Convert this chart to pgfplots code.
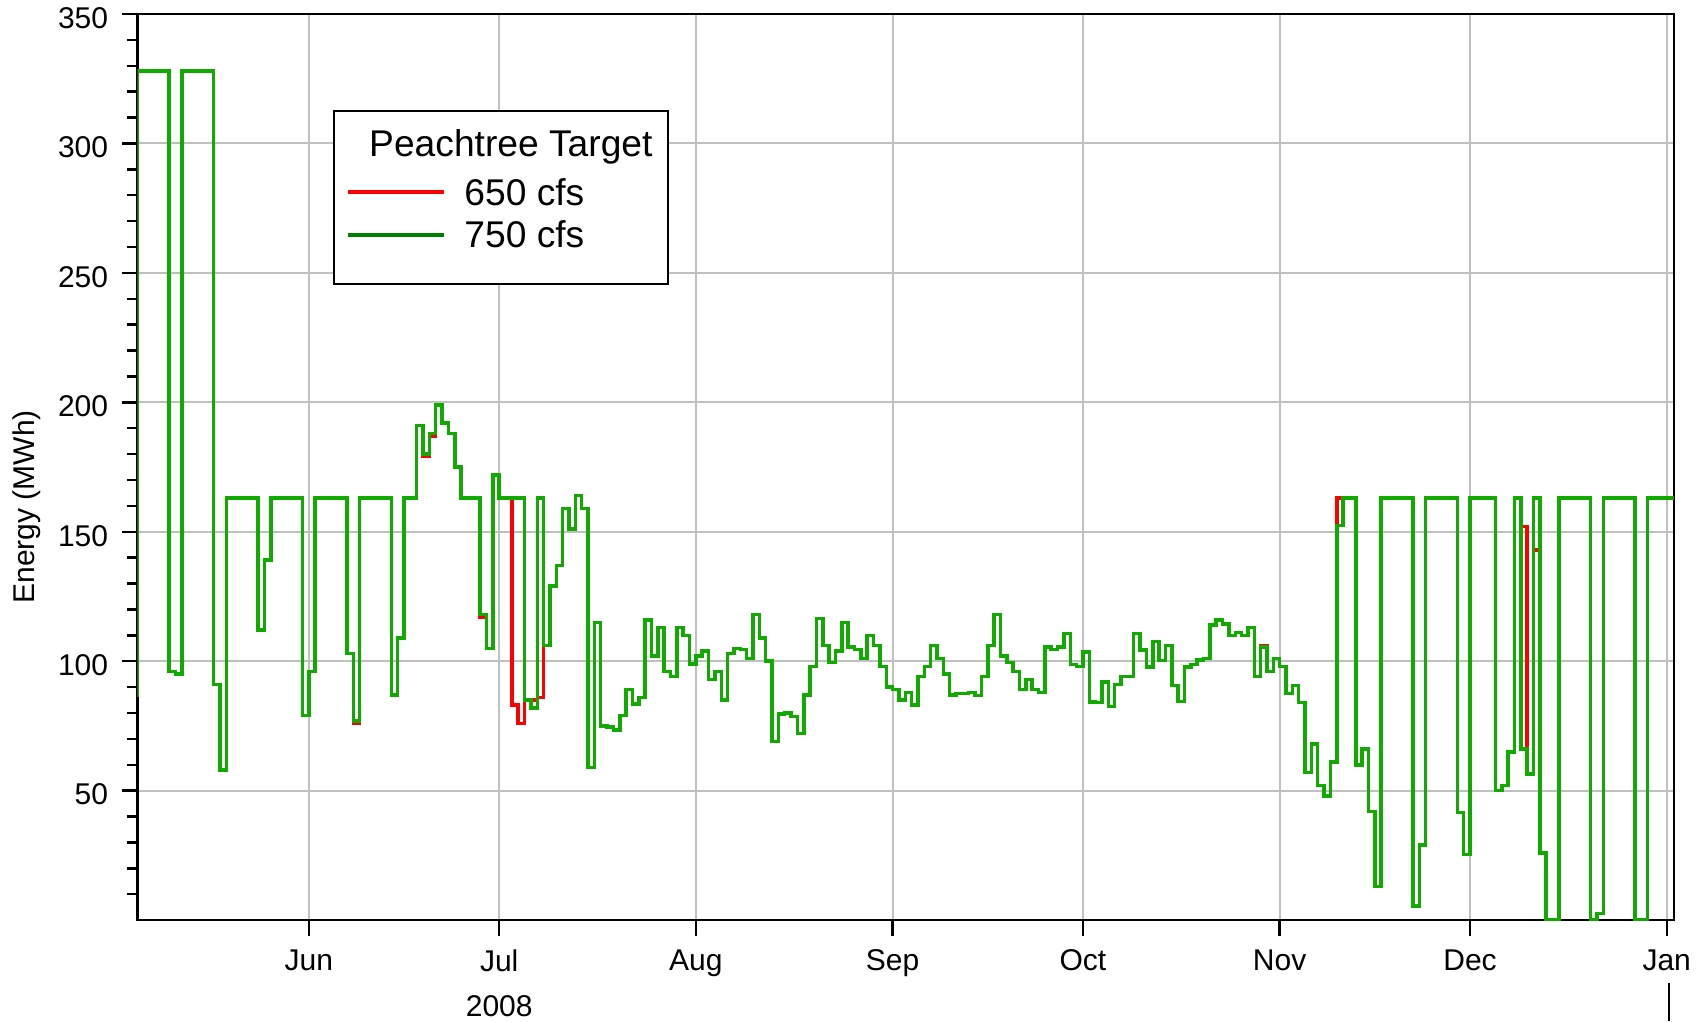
\documentclass[border=0pt]{standalone}
\usepackage{pgfplots}
\pgfplotsset{compat=1.18}
\usepackage{pgfplotstable}
\usepackage{fontspec}
\setmainfont{Liberation Sans}
\definecolor{plotgreen}{RGB}{17,170,0}
\definecolor{leggreen}{RGB}{0,128,0}
\definecolor{plotred}{RGB}{255,0,0}
\definecolor{gridgray}{RGB}{192,192,192}

% day = days since 1 June 2008
\pgfplotstableread{
day red green
-28 87 87
-27 328 328
-26 328 328
-25 328 328
-24 328 328
-23 328 328
-22 96 96
-21 95 95
-20 328 328
-19 328 328
-18 328 328
-17 328 328
-16 328 328
-15 91 91
-14 58 58
-13 163 163
-12 163 163
-11 163 163
-10 163 163
-9 163 163
-8 112 112
-7 139 139
-6 163 163
-5 163 163
-4 163 163
-3 163 163
-2 163 163
-1 79 79
0 96 96
1 163 163
2 163 163
3 163 163
4 163 163
5 163 163
6 103 103
7 76 77
8 163 163
9 163 163
10 163 163
11 163 163
12 163 163
13 87 87
14 109 109
15 163 163
16 163 163
17 191 191
18 179 180
19 187 188
20 199 199
21 192 192
22 188 188
23 175 175
24 163 163
25 163 163
26 163 163
27 117 118
28 105 105
29 172 172
30 163 163
31 163 163
32 83 163
33 76 163
34 85 85
35 85 82
36 86 163
37 106 106
38 129 129
39 137 137
40 159 159
41 151 151
42 164 164
43 159 159
44 59 59
45 115 115
46 75 75
47 74.5 74.5
48 73.5 73.5
49 79 79
50 89 89
51 83.5 83.5
52 86 86
53 116 116
54 102 102
55 113 113
56 96 96
57 94 94
58 113 113
59 110 110
60 99 99
61 102 102
62 104 104
63 93 93
64 96 96
65 85 85
66 103 103
67 105 105
68 104.5 104.5
69 101 101
70 118 118
71 109 109
72 100 100
73 69 69
74 79.6 79.6
75 80 80
76 78.7 78.7
77 72 72
78 87 87
79 98 98
80 116.5 116.5
81 106 106
82 99.5 99.5
83 104 104
84 115 115
85 105.5 105.5
86 104.5 104.5
87 101 101
88 110 110
89 106 106
90 98 98
91 90 90
92 89 89
93 85 85
94 88 88
95 83 83
96 94 94
97 98 98
98 106 106
99 101 101
100 95 95
101 87 87
102 87.5 87.5
103 87.5 87.5
104 88 88
105 86.7 86.7
106 94 94
107 106 106
108 118 118
109 102 102
110 99.5 99.5
111 96 96
112 89 89
113 93 93
114 89 89
115 88 88
116 105.5 105.5
117 104.5 104.5
118 105.5 105.5
119 110.7 110.7
120 98.7 98.7
121 98 98
122 103.5 103.5
123 84.3 84.3
124 84 84
125 92 92
126 82.6 82.6
127 91 91
128 94 94
129 94 94
130 110.7 110.7
131 104.3 104.3
132 97.8 97.8
133 107.6 107.6
134 100.3 100.3
135 106 106
136 90.6 90.6
137 84.5 84.5
138 97.8 97.8
139 98.7 98.7
140 100.5 100.5
141 101 101
142 114 114
143 116 116
144 114.4 114.4
145 110 110
146 111 111
147 110 110
148 113 113
149 94 94
150 106 105.5
151 96 96
152 101 101
153 98 98
154 87.5 87.5
155 90.7 90.7
156 84 84
157 57 57
158 68 68
159 52 52
160 48 48
161 61 61
162 163 152.4
163 163 163
164 163 163
165 60 60
166 66 66
167 42 42
168 13 13
169 163 163
170 163 163
171 163 163
172 163 163
173 163 163
174 5.5 5.5
175 29 29
176 163 163
177 163 163
178 163 163
179 163 163
180 163 163
181 41.6 41.6
182 25.3 25.3
183 163 163
184 163 163
185 163 163
186 163 163
187 50 50
188 52 52
189 65 65
190 163 163
191 152 66
192 56.4 56.4
193 143 163
194 26 26
195 0 0
196 0 0
197 163 163
198 163 163
199 163 163
200 163 163
201 163 163
202 0 0
203 2.5 2.5
204 163 163
205 163 163
206 163 163
207 163 163
208 163 163
209 0 0
210 0 0
211 163 163
212 163 163
213 163 163
214 163 163
215.3 163 163
}\energy

\begin{document}
\begin{tikzpicture}
\begin{axis}[
  at={(0pt,0pt)}, anchor=south west,
  scale only axis, width=768pt, height=453pt,
  xmin=-27, xmax=215.1, ymin=0, ymax=350,
  clip mode=individual,
  axis line style={line width=1.2pt, black},
  tick align=outside,
  major tick length=7.8pt, minor tick length=5.3pt,
  every tick/.style={line width=1.2pt, black},
  xtick pos=bottom, ytick pos=left,
  xtick={0,30,61,92,122,153,183,214},
  xticklabels={Jun,Jul,Aug,Sep,Oct,Nov,Dec,Jan},
  ytick={50,100,150,200,250,300,350},
  minor ytick={10,20,30,40,60,70,80,90,110,120,130,140,160,170,180,190,210,220,230,240,260,270,280,290,310,320,330,340},
  grid=major,
  major grid style={line width=1pt, gridgray},
  tick label style={font=\fontsize{15}{18}\selectfont},
  /pgf/number format/assume math mode=true,
  yticklabel style={inner sep=0pt, anchor=east, xshift=-6.7pt, yshift=-2pt},
  xticklabel style={inner sep=0pt, anchor=north, yshift=-6.7pt},
  ylabel={Energy (MWh)},
  every axis y label/.style={at={(rel axis cs:-0.0719,0.456)}, rotate=90, anchor=center, font=\fontsize{15}{18}\selectfont},
  legend style={at={(rel axis cs:0.127,0.894)}, anchor=north west,
    draw=black, line width=1pt, fill=white,
    inner xsep=6.4pt, inner ysep=9.5pt,
    font=\fontsize{18.6}{22}\selectfont,
    cells={anchor=base west},
    nodes={inner sep=0pt, text height=13pt, text depth=4pt},
    row sep=4.3pt, column sep=9pt},
  legend image code/.code={\draw[#1] (0pt,6.5pt) -- (48pt,6.5pt);},
]
\addplot[const plot, plotred, line width=1.75pt, forget plot] table[x=day, y=red] {\energy};
\addplot[const plot, plotgreen, line width=1.75pt, forget plot] table[x=day, y=green] {\energy};

\addlegendimage{empty legend}
\addlegendentry[text depth=7.2pt]{\hspace*{-47.6pt}Peachtree Target\hspace*{1.5pt}}
\addlegendimage{plotred, line width=2pt}
\addlegendentry{650 cfs}
\addlegendimage{leggreen, line width=2pt}
\addlegendentry[text depth=8.7pt]{750 cfs}

\node[anchor=north, inner sep=0pt, font=\fontsize{15}{18}\selectfont] at ([yshift=-37.3pt]axis cs:30,0) {2008};
\draw[line width=1.2pt, black] ([yshift=-31.5pt]axis cs:214.4,0) -- ([yshift=-50.5pt]axis cs:214.4,0);
\end{axis}
\pgfresetboundingbox
\path[use as bounding box] (-68.75pt,-50.5pt) rectangle (782.65pt,460pt);
\end{tikzpicture}
\end{document}
